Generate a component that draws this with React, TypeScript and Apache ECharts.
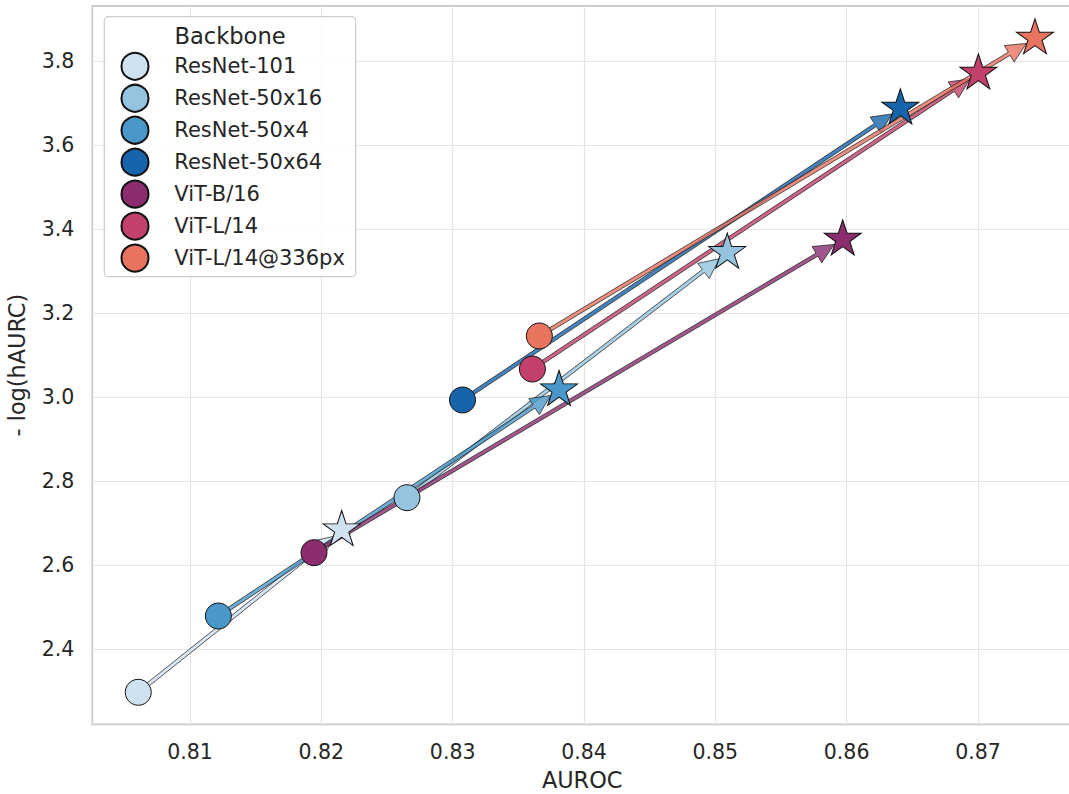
import { useEffect, useRef } from 'react';
import * as echarts from 'echarts';

// ---- Data ----
const backbones = ['ResNet-101', 'ResNet-50x16', 'ResNet-50x4', 'ResNet-50x64', 'ViT-B/16', 'ViT-L/14', 'ViT-L/14@336px'];
const colors = ['#d0e1f2', '#94c4df', '#4a98c9', '#1764ab', '#8b2d6f', '#c1416a', '#e8735f'];
const startAUROC = [0.80606, 0.82652, 0.81216, 0.83075, 0.81944, 0.83607, 0.8366];
const startLogHAURC = [2.2976, 2.761, 2.4793, 2.9936, 2.630, 3.0674, 3.146];
const endAUROC = [0.82155, 0.85091, 0.8381, 0.86409, 0.8597, 0.87003, 0.87434];
const endLogHAURC = [2.684, 3.3443, 3.0174, 3.688, 3.376, 3.7714, 3.8548];
const xTicks = [0.81, 0.82, 0.83, 0.84, 0.85, 0.86, 0.87];
const yTicks = [2.4, 2.6, 2.8, 3.0, 3.2, 3.4, 3.6, 3.8];

const FONT = 'DejaVu Sans';
const TEXT = '#262626';

function starPath(): string {
  const pts: string[] = [];
  for (let k = 0; k < 10; k++) {
    const r = k % 2 === 0 ? 1 : 0.381966;
    const a = -Math.PI / 2 + (k * Math.PI) / 5;
    pts.push(`${(r * Math.cos(a)).toFixed(4)} ${(r * Math.sin(a)).toFixed(4)}`);
  }
  return 'path://M' + pts.join(' L') + ' Z';
}

function rgba(hex: string, a: number): string {
  const n = parseInt(hex.slice(1), 16);
  return `rgba(${(n >> 16) & 255},${(n >> 8) & 255},${n & 255},${a})`;
}

export default function App() {
  const ref = useRef<HTMLDivElement>(null);
  useEffect(() => {
    if (!ref.current) return;
    const chart = echarts.init(ref.current, undefined, { renderer: 'svg' });
    const STAR = starPath();

    const arrowData = backbones.map((_, i) => [startAUROC[i], startLogHAURC[i], endAUROC[i], endLogHAURC[i], i]);

    const arrowSeries: any = {
      type: 'custom',
      name: 'arrows',
      z: 1,
      silent: true,
      data: arrowData,
      encode: { x: [0, 2], y: [1, 3] },
      renderItem: (params: any, api: any) => {
        const p0 = api.coord([api.value(0), api.value(1)]);
        const p1 = api.coord([api.value(2), api.value(3)]);
        const idx = api.value(4);
        const dx = p1[0] - p0[0];
        const dy = p1[1] - p0[1];
        const len = Math.sqrt(dx * dx + dy * dy);
        const ux = dx / len, uy = dy / len;
        const nx = -uy, ny = ux;
        const shrink = 10, headLen = 20, headHalf = 9.5, shaftHalf = 1.8;
        const tip = [p1[0] - ux * shrink, p1[1] - uy * shrink];
        const base = [tip[0] - ux * headLen, tip[1] - uy * headLen];
        const pts = [
          [p0[0] + nx * shaftHalf, p0[1] + ny * shaftHalf],
          [base[0] + nx * shaftHalf, base[1] + ny * shaftHalf],
          [base[0] + nx * headHalf, base[1] + ny * headHalf],
          tip,
          [base[0] - nx * headHalf, base[1] - ny * headHalf],
          [base[0] - nx * shaftHalf, base[1] - ny * shaftHalf],
          [p0[0] - nx * shaftHalf, p0[1] - ny * shaftHalf],
        ];
        return {
          type: 'polygon',
          shape: { points: pts },
          style: { fill: rgba(colors[idx], 0.8), stroke: 'rgba(25,25,25,0.8)', lineWidth: 0.9 },
        };
      },
    };

    const pointSeries = backbones.map((name, i) => ({
      type: 'scatter',
      name,
      z: 3,
      data: [
        { value: [startAUROC[i], startLogHAURC[i]], symbol: 'circle', symbolSize: 26 },
        { value: [endAUROC[i], endLogHAURC[i]], symbol: STAR, symbolSize: [37, 35], symbolOffset: [0, -2] },
      ],
      itemStyle: { color: colors[i], borderColor: '#111111', borderWidth: 1, opacity: 1 },
      emphasis: { disabled: true },
    }));

    chart.setOption({
      animation: false,
      backgroundColor: '#ffffff',
      grid: {
        left: 92.3,
        top: 6,
        right: -3,
        bottom: 69.7,
        show: true,
        borderColor: '#cccccc',
        borderWidth: 1.8,
        backgroundColor: 'transparent',
        outerBoundsMode: 'none',
        containLabel: false,
      },
      xAxis: {
        type: 'value',
        min: 0.80256,
        max: 0.87716,
        axisLine: { show: false },
        axisTick: { show: false, customValues: xTicks },
        splitLine: { show: true, lineStyle: { color: '#e5e5e5', width: 1.2 } },
        axisLabel: {
          customValues: xTicks,
          formatter: (v: number) => v.toFixed(2),
          fontSize: 20.5,
          lineHeight: 24,
          color: TEXT,
          fontFamily: FONT,
          margin: 15.5,
        },
        name: 'AUROC',
        nameLocation: 'middle',
        nameGap: 44.5,
        nameTextStyle: { fontSize: 22.4, lineHeight: 22.4, color: TEXT, fontFamily: FONT },
      },
      yAxis: {
        type: 'value',
        min: 2.2214,
        max: 3.9317,
        axisLine: { show: false },
        axisTick: { show: false, customValues: yTicks },
        splitLine: { show: true, lineStyle: { color: '#e5e5e5', width: 1.2 } },
        axisLabel: {
          customValues: yTicks,
          formatter: (v: number) => v.toFixed(1),
          fontSize: 20.5,
          lineHeight: 24,
          color: TEXT,
          fontFamily: FONT,
          margin: 18,
          padding: [2, 0, 0, 0],
        },
        name: '- log(hAURC)',
        nameLocation: 'middle',
        nameGap: 56,
        nameTextStyle: { fontSize: 22.4, lineHeight: 27, color: TEXT, fontFamily: FONT },
      },
      legend: {
        orient: 'vertical',
        left: 120.5,
        top: 51.8,
        padding: 0,
        icon: 'circle',
        itemWidth: 27,
        itemHeight: 27,
        itemGap: 2.97,
        selectedMode: false,
        z: 10,
        data: backbones,
        textStyle: { fontSize: 21, lineHeight: 22, color: TEXT, fontFamily: FONT, padding: [0, 0, 0, 20.8] },
      },
      graphic: [
        {
          type: 'rect',
          z: 9,
          shape: { x: 104.3, y: 16.7, width: 251.4, height: 260, r: 4 },
          style: { fill: 'rgba(255,255,255,0.8)', stroke: '#cccccc', lineWidth: 1.2 },
        },
        {
          type: 'text',
          z: 10,
          x: 230,
          y: 36,
          style: { text: 'Backbone', fontSize: 22.6, fill: TEXT, fontFamily: FONT, align: 'center', verticalAlign: 'middle' },
        },
      ],
      series: [arrowSeries, ...pointSeries],
    });
    return () => chart.dispose();
  }, []);
  return <div ref={ref} style={{ width: 1069, height: 794, position: 'fixed', left: 0, top: 0 }} />;
}
